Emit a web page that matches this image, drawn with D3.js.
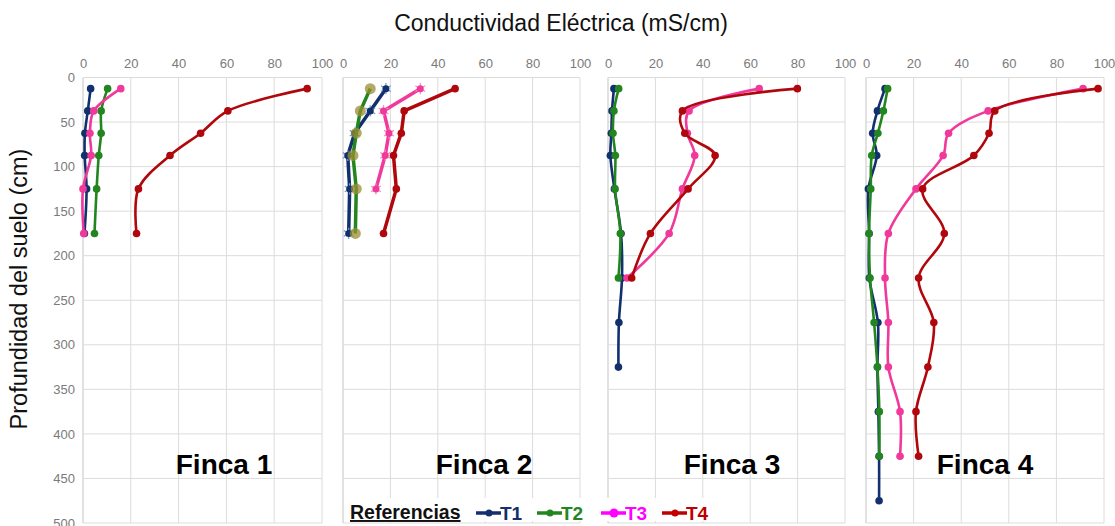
<!DOCTYPE html>
<html>
<head>
<meta charset="utf-8">
<script src="https://cdn.jsdelivr.net/npm/d3@7"></script>
<style>
  body { margin: 0; background: #fff; }
  svg { font-family: "Liberation Sans", Arial, sans-serif; }
</style>
</head>
<body>
<div id="chart"></div>
<script>
// profundidades de muestreo (cm)
const depths = [12.5, 37.5, 62.5, 87.5, 125, 175, 225, 275, 325, 375, 425, 475];
const xTicks = [0, 20, 40, 60, 80, 100];
const yTicks = [0, 50, 100, 150, 200, 250, 300, 350, 400, 450, 500];
const fincas = ["Finca 1", "Finca 2", "Finca 3", "Finca 4"];
const series = ["T1", "T2", "T3", "T4"];

// CE por tratamiento, en el orden de depths
const f1T1 = [3.2, 2.0, 0.8, 0.7, 1.5, 0.6];
const f1T2 = [10.3, 7.6, 7.6, 6.6, 5.7, 4.8];
const f1T3 = [15.8, 4.5, 2.9, 3.4, 0.0, 0.3];
const f1T4 = [93.8, 60.6, 49.2, 36.4, 23.2, 22.4];

const f2T1 = [18.1, 11.5, 4.9, 2.0, 2.8, 2.4];
const f2T2 = [11.5, 7.3, 5.6, 4.2, 5.6, 5.2];
const f2T3 = [32.6, 17.1, 19.4, 17.8, 13.9];
const f2T4 = [47.3, 25.8, 24.6, 21.3, 22.5, 17.1];

const f3T1 = [2.5, 1.7, 1.4, 1.0, 2.7, 5.5, 5.9, 4.6, 4.4];
const f3T2 = [4.5, 2.5, 2.1, 3.1, 3.0, 5.2, 4.4];
const f3T3 = [63.8, 34.2, 33.5, 36.6, 31.4, 25.8, 8.0];
const f3T4 = [79.9, 31.4, 32.4, 45.2, 33.8, 17.9, 10.0];

const f4T1 = [8.0, 4.8, 2.8, 4.5, 1.0, 1.3, 1.4, 5.0, 4.8, 5.2, 5.5, 5.5];
const f4T2 = [9.1, 7.3, 5.0, 2.4, 2.0, 1.3, 1.7, 3.4, 4.8, 5.6, 5.6];
const f4T3 = [91.2, 51.3, 34.7, 32.4, 21.0, 9.4, 8.0, 9.4, 9.4, 14.3, 14.3];
const f4T4 = [97.5, 54.1, 51.7, 45.3, 23.8, 32.9, 22.1, 28.5, 26.0, 21.0, 22.1];

const panelData = [
  [f1T1, f1T2, f1T3, f1T4],
  [f2T1, f2T2, f2T3, f2T4],
  [f3T1, f3T2, f3T3, f3T4],
  [f4T1, f4T2, f4T3, f4T4]
];

const lineColors = ["#12306e", "#22851f", "#f0399a", "#b0070c"];
const legendColors = ["#12306e", "#22851f", "#ff00ff", "#c00000"];

const width = 1115, height = 526;
const svg = d3.select("#chart").append("svg")
  .attr("width", width)
  .attr("height", height);

const y = d3.scaleLinear().domain([0, 500]).range([77.5, 523]);

const panels = [
  { x0: 83, x1: 322, smooth: true },
  { x0: 343, x1: 580, smooth: false },
  { x0: 608, x1: 845, smooth: true },
  { x0: 866, x1: 1104, smooth: true }
];
const fincaX = [224, 484, 732, 985];

panels.forEach((p, pi) => {
  const x = d3.scaleLinear().domain([0, 100]).range([p.x0, p.x1]);
  const g = svg.append("g").attr("class", "panel");

  // rejilla
  g.selectAll(".vgrid").data(xTicks).join("line")
    .attr("x1", d => x(d)).attr("x2", d => x(d))
    .attr("y1", y(0)).attr("y2", y(500))
    .attr("stroke", d => d === 0 ? "#c4c4c4" : "#dcdcdc")
    .attr("stroke-width", 1);
  g.selectAll(".hgrid").data(yTicks).join("line")
    .attr("x1", x(0)).attr("x2", x(100))
    .attr("y1", d => y(d)).attr("y2", d => y(d))
    .attr("stroke", "#dcdcdc")
    .attr("stroke-width", 1);

  // eje superior
  const xAxis = d3.axisTop(x).tickValues(xTicks).tickSize(0).tickPadding(10);
  g.append("g").attr("transform", `translate(0,${y(0)})`).call(xAxis)
    .call(a => a.select(".domain").remove())
    .selectAll("text").attr("fill", "#7a7a7a").attr("font-size", 13)
    .attr("font-family", "'Liberation Sans', Arial, sans-serif");

  if (pi === 0) {
    const yAxis = d3.axisLeft(y).tickValues(yTicks).tickSize(0).tickPadding(8);
    g.append("g").attr("transform", `translate(${x(0)},0)`).call(yAxis)
      .call(a => a.select(".domain").remove())
      .selectAll("text").attr("fill", "#7a7a7a").attr("font-size", 13)
      .attr("font-family", "'Liberation Sans', Arial, sans-serif");
  }

  const line = d3.line()
    .x(d => x(d.v))
    .y(d => y(d.depth))
    .curve(p.smooth ? d3.curveCatmullRom.alpha(0.5) : d3.curveLinear);

  panelData[pi].forEach((vals, si) => {
    const pts = vals.map((v, i) => ({ v: v, depth: depths[i] }));
    const sg = g.append("g").attr("class", "serie " + series[si]);
    sg.append("path").datum(pts)
      .attr("d", line)
      .attr("fill", "none")
      .attr("stroke", lineColors[si])
      .attr("stroke-width", pi === 1 ? 3.5 : 2.6)
      .attr("stroke-linejoin", "round");

    if (pi === 1 && si === 1) {
      sg.selectAll("circle").data(pts).join("circle")
        .attr("cx", d => x(d.v)).attr("cy", d => y(d.depth))
        .attr("r", 5.5).attr("fill", "#9a8f32").attr("opacity", 0.75);
    } else if (pi === 1 && (si === 0 || si === 2)) {
      const star = d3.symbol().type(d3.symbolAsterisk).size(90);
      sg.selectAll(".star").data(pts).join("path")
        .attr("class", "star")
        .attr("d", star)
        .attr("transform", d => `translate(${x(d.v)},${y(d.depth)})`)
        .attr("fill", "none")
        .attr("stroke", si === 0 ? "#6f9ccc" : "#f58cc6")
        .attr("stroke-width", 1.2);
      sg.selectAll("circle").data(pts).join("circle")
        .attr("cx", d => x(d.v)).attr("cy", d => y(d.depth))
        .attr("r", 3.5).attr("fill", lineColors[si]);
    } else {
      sg.selectAll("circle").data(pts).join("circle")
        .attr("cx", d => x(d.v)).attr("cy", d => y(d.depth))
        .attr("r", 3.8).attr("fill", lineColors[si]);
    }
  });

  g.append("text")
    .attr("x", fincaX[pi]).attr("y", 474)
    .attr("text-anchor", "middle")
    .attr("font-size", 28).attr("font-weight", "bold")
    .attr("fill", "#000")
    .text(fincas[pi]);
});

// títulos
svg.append("text")
  .attr("x", 561).attr("y", 31)
  .attr("text-anchor", "middle")
  .attr("font-size", 23)
  .attr("fill", "#111")
  .text("Conductividad Eléctrica (mS/cm)");

svg.append("text")
  .attr("transform", "translate(27,289) rotate(-90)")
  .attr("text-anchor", "middle")
  .attr("font-size", 23.5)
  .attr("fill", "#111")
  .text("Profundidad del suelo (cm)");

// leyenda
const leg = svg.append("g").attr("class", "legend");
leg.append("rect")
  .attr("x", 346).attr("y", 498).attr("width", 372).attr("height", 23)
  .attr("fill", "#fff");
leg.append("text")
  .attr("x", 350).attr("y", 519)
  .attr("font-size", 19.5).attr("font-weight", "bold")
  .attr("text-decoration", "underline")
  .attr("fill", "#111")
  .text("Referencias");

const legX = [476, 537, 601, 662];
series.forEach((s, i) => {
  const lg = leg.append("g").attr("transform", `translate(${legX[i]},513)`);
  lg.append("line").attr("x1", 0).attr("x2", 25).attr("y1", 0).attr("y2", 0)
    .attr("stroke", legendColors[i]).attr("stroke-width", 3.5);
  lg.append("circle").attr("cx", 13).attr("cy", 0).attr("r", i === 2 ? 4.5 : 3.5)
    .attr("fill", legendColors[i]);
  lg.append("text").attr("x", 24).attr("y", 6.5)
    .attr("font-size", 19).attr("font-weight", "bold")
    .attr("fill", legendColors[i])
    .text(s);
});
</script>
</body>
</html>
